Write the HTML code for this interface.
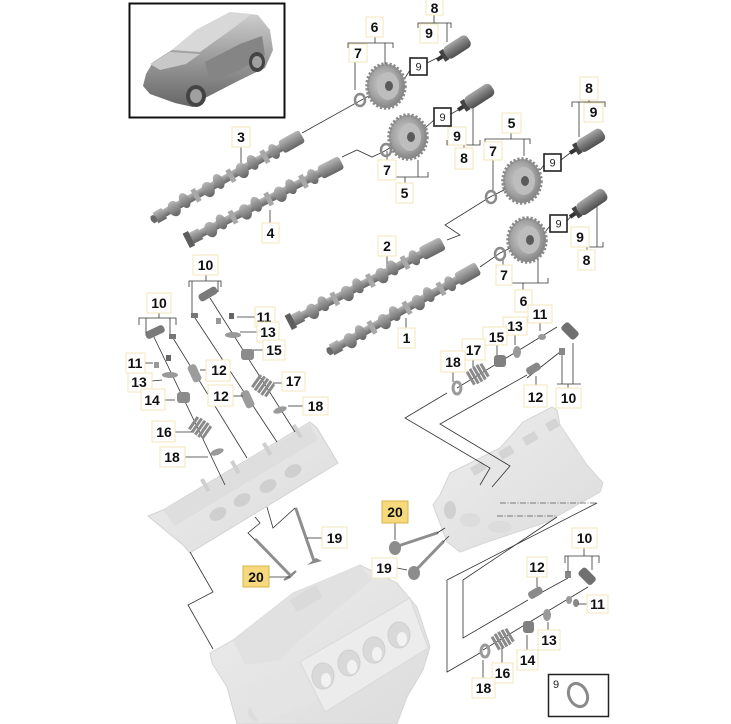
<!DOCTYPE html>
<html><head><meta charset="utf-8">
<style>
html,body{margin:0;padding:0;background:#fff;}
svg{display:block;}
.lb rect{fill:#fff;stroke:#f3e6b8;stroke-width:1;}
.lb text{font-family:"Liberation Sans",sans-serif;font-weight:bold;font-size:14px;fill:#111;text-anchor:middle;}
.hl rect{fill:#f6d97c;stroke:#d8b548;stroke-width:1;}
.bx rect{fill:#fff;stroke:#222;stroke-width:1.6;}
.bx text{font-family:"Liberation Sans",sans-serif;font-size:11px;fill:#222;text-anchor:middle;}
.ln{stroke:#333;stroke-width:0.8;fill:none;}
.dl{stroke:#555;stroke-width:0.8;fill:none;stroke-dasharray:6 1.5 1 1.5;}
</style></head>
<body>
<svg width="731" height="724" viewBox="0 0 731 724" xmlns="http://www.w3.org/2000/svg">
<defs>
<linearGradient id="cam" x1="0" y1="0" x2="0" y2="1">
<stop offset="0" stop-color="#b8b8b8"/><stop offset="0.5" stop-color="#8e8e8e"/><stop offset="1" stop-color="#646464"/>
</linearGradient>
<linearGradient id="sol" x1="0" y1="0" x2="0" y2="1">
<stop offset="0" stop-color="#a8a8a8"/><stop offset="0.5" stop-color="#787878"/><stop offset="1" stop-color="#4e4e4e"/>
</linearGradient>
<radialGradient id="spr" cx="0.45" cy="0.45" r="0.6">
<stop offset="0" stop-color="#d0d0d0"/><stop offset="0.6" stop-color="#a4a4a4"/><stop offset="1" stop-color="#7c7c7c"/>
</radialGradient>
<linearGradient id="car" x1="0" y1="0" x2="0" y2="1">
<stop offset="0" stop-color="#cfcfcf"/><stop offset="0.55" stop-color="#959595"/><stop offset="1" stop-color="#666"/>
</linearGradient>
<linearGradient id="blk" x1="0" y1="0" x2="1" y2="1">
<stop offset="0" stop-color="#ededed"/><stop offset="1" stop-color="#dcdcdc"/>
</linearGradient>
<g id="cs">
<rect x="0" y="-4" width="170" height="8" fill="url(#cam)"/>
<rect x="148" y="-7" width="24" height="14" rx="3" fill="url(#cam)"/>
<rect x="4" y="-6" width="10" height="12" fill="url(#cam)"/>
<ellipse cx="25" cy="1" rx="6" ry="8" fill="url(#cam)"/><ellipse cx="38" cy="-1" rx="5" ry="8" fill="url(#cam)"/>
<rect x="48" y="-7" width="5" height="14" fill="#a8a8a8"/>
<ellipse cx="64" cy="1" rx="6" ry="8" fill="url(#cam)"/><ellipse cx="77" cy="-1" rx="5" ry="8" fill="url(#cam)"/>
<rect x="88" y="-7" width="5" height="14" fill="#a8a8a8"/>
<ellipse cx="103" cy="1" rx="6" ry="8" fill="url(#cam)"/><ellipse cx="116" cy="-1" rx="5" ry="8" fill="url(#cam)"/>
<rect x="127" y="-7" width="5" height="14" fill="#a8a8a8"/>
<ellipse cx="140" cy="0" rx="5" ry="8" fill="url(#cam)"/>
</g>
<g id="spk">
<ellipse cx="0" cy="0" rx="19" ry="22" fill="url(#spr)" stroke="#8a8a8a" stroke-width="3.5" stroke-dasharray="2.2 1.8"/>
<ellipse cx="2" cy="0" rx="11" ry="14" fill="#bdbdbd"/><ellipse cx="3" cy="0" rx="4" ry="5" fill="#5a5a5a"/>
</g>
<g id="spring" fill="#8a8a8a"><rect x="0" y="1" width="3" height="15"/><rect x="4" y="0" width="3" height="17"/><rect x="8" y="0" width="3" height="17"/><rect x="12" y="0" width="3" height="17"/><rect x="16" y="1" width="3" height="15"/></g>
</defs>

<!-- Car inset -->
<rect x="129.5" y="3.5" width="155" height="114" fill="#fff" stroke="#111" stroke-width="2"/>
<polygon points="143,86 146,74 153,62 172,50 196,30 230,12 258,15 270,30 273,50 265,68 240,80 205,98 193,107 175,103 150,94" fill="url(#car)"/>
<polygon points="172,50 196,30 230,12 252,14 228,32 200,52" fill="#d8d8d8"/>
<polygon points="150,64 170,52 200,54 186,64 160,70" fill="#c8c8c8"/>
<polygon points="205,62 240,44 262,36 265,55 240,70 210,82" fill="#858585"/>
<ellipse cx="196" cy="96" rx="10" ry="11" fill="#444"/><ellipse cx="196" cy="96" rx="6" ry="7" fill="#a0a0a0"/>
<ellipse cx="257" cy="62" rx="8" ry="10" fill="#444"/><ellipse cx="257" cy="62" rx="5" ry="6" fill="#a0a0a0"/>

<!-- Top connectors & brackets -->
<g class="ln">
<polyline points="302,133 383,88"/>
<polyline points="405,78 410,70"/><polyline points="427,63 437,58"/>
<polyline points="342,157 357,150 372,157 383,152 408,137"/>
<polyline points="425,128 434,120"/><polyline points="451,114 458,110"/>
<polyline points="447,240 460,235 445,225 490,197 522,181"/>
<polyline points="540,170 544,165"/><polyline points="561,160 570,153"/>
<polyline points="480,267 500,253 527,240"/>
<polyline points="545,232 550,226"/><polyline points="567,221 572,215"/>
<polyline points="434,14 434,23"/><polyline points="418,28 418,23 451,23 451,28"/><polyline points="447,23 447,42"/>
<polyline points="375,37 375,43"/><polyline points="348,48 348,43 393,43 393,48"/><polyline points="385,43 385,64"/><polyline points="355,62 355,90"/>
<polyline points="378,172 378,177 428,177 428,172"/><polyline points="418,160 418,177"/><polyline points="405,177 405,183"/><polyline points="387,160 387,151"/>
<polyline points="447,140 447,145 480,145 480,140"/><polyline points="473,145 473,100"/><polyline points="464,145 464,148"/>
<polyline points="511,133 511,139"/><polyline points="485,144 485,139 530,139 530,144"/><polyline points="524,139 524,156"/><polyline points="493,160 493,190"/>
<polyline points="589,100 589,102"/><polyline points="572,107 572,102 605,102 605,107"/><polyline points="579,102 579,137"/>
<polyline points="571,242 571,247 603,247 603,242"/><polyline points="597,247 597,200"/><polyline points="587,247 587,250"/>
<polyline points="498,278 498,283 548,283 548,278"/><polyline points="538,283 538,258"/><polyline points="503,265 503,259"/><polyline points="523,283 523,290"/>
<polyline points="241,147 241,165"/><polyline points="270,223 270,210"/>
<polyline points="387,256 387,270"/><polyline points="406,328 406,318"/>
</g>

<!-- Camshafts -->
<g transform="translate(152,220) rotate(-29.3)"><use href="#cs"/><ellipse cx="2" cy="0" rx="3" ry="4" fill="#6a6a6a"/></g>
<g transform="translate(188,240) rotate(-26.9)"><use href="#cs"/><rect x="-2" y="-8" width="6" height="16" fill="#5e5e5e"/></g>
<g transform="translate(290,322) rotate(-27.3)"><use href="#cs"/><rect x="-2" y="-8" width="6" height="16" fill="#5e5e5e"/></g>
<g transform="translate(328,352) rotate(-29.2)"><use href="#cs"/><ellipse cx="2" cy="0" rx="3" ry="4" fill="#6a6a6a"/></g>

<!-- Sprockets -->
<use href="#spk" x="386" y="86"/>
<use href="#spk" x="408" y="137"/>
<use href="#spk" x="522" y="181"/>
<use href="#spk" x="527" y="240"/>
<g fill="none" stroke="#8a8a8a" stroke-width="2.5">
<ellipse cx="360" cy="100" rx="5" ry="6"/><ellipse cx="386" cy="150" rx="5" ry="6"/>
<ellipse cx="491" cy="197" rx="5" ry="6"/><ellipse cx="500" cy="254" rx="5" ry="6"/>
</g>

<!-- Solenoids -->
<g transform="translate(437,60) rotate(-32.8)"><rect x="0" y="-2" width="7" height="4" fill="#333"/><rect x="6" y="-6" width="5" height="12" fill="#444"/><rect x="10" y="-7" width="28" height="14" rx="5" fill="url(#sol)"/></g>
<g transform="translate(458,110) rotate(-32.9)"><rect x="0" y="-2" width="7" height="4" fill="#333"/><rect x="6" y="-6" width="5" height="12" fill="#444"/><rect x="10" y="-7" width="31" height="14" rx="5" fill="url(#sol)"/></g>
<g transform="translate(570,153) rotate(-31.2)"><rect x="0" y="-2" width="7" height="4" fill="#333"/><rect x="6" y="-6" width="5" height="12" fill="#444"/><rect x="10" y="-7" width="29" height="14" rx="5" fill="url(#sol)"/></g>
<g transform="translate(570,217) rotate(-34.4)"><rect x="0" y="-2" width="7" height="4" fill="#333"/><rect x="6" y="-6" width="5" height="12" fill="#444"/><rect x="10" y="-7" width="33" height="14" rx="5" fill="url(#sol)"/></g>

<!-- Left cylinder head -->
<polygon points="148,516 163,510 310,422 317,428 338,463 190,553 183,545" fill="url(#blk)" stroke="#d2d2d2"/>
<polygon points="163,510 310,424 318,440 175,526" fill="#dedede"/>
<g fill="#cfcfcf">
<ellipse cx="218" cy="514" rx="9" ry="6" transform="rotate(-30 218 514)"/>
<ellipse cx="242" cy="500" rx="9" ry="6" transform="rotate(-30 242 500)"/>
<ellipse cx="268" cy="486" rx="9" ry="6" transform="rotate(-30 268 486)"/>
<ellipse cx="293" cy="471" rx="9" ry="6" transform="rotate(-30 293 471)"/>
<rect x="200" y="480" width="4" height="14" transform="rotate(-30 200 480)"/>
<rect x="230" y="462" width="4" height="14" transform="rotate(-30 230 462)"/>
<rect x="262" y="444" width="4" height="14" transform="rotate(-30 262 444)"/>
<rect x="292" y="426" width="4" height="14" transform="rotate(-30 292 426)"/>
</g>

<!-- Right cylinder head -->
<polygon points="433,505 440,495 450,473 500,448 523,422 552,407 557,410 560,425 587,465 603,483 600,492 547,522 487,542 460,552 447,542" fill="url(#blk)" stroke="#d5d5d5"/>
<g fill="#d4d4d4">
<rect x="470" y="468" width="14" height="9" transform="rotate(-30 470 468)"/>
<rect x="498" y="452" width="14" height="9" transform="rotate(-30 498 452)"/>
<rect x="522" y="438" width="14" height="9" transform="rotate(-30 522 438)"/>
<rect x="545" y="424" width="12" height="9" transform="rotate(-30 545 424)"/>
<ellipse cx="470" cy="520" rx="10" ry="7" fill="#dcdcdc"/>
<ellipse cx="500" cy="527" rx="12" ry="6" fill="#dcdcdc"/>
<ellipse cx="450" cy="510" rx="6" ry="9" fill="#d0d0d0"/>
</g>
<g class="dl"><polyline points="500,503 597,503"/><polyline points="497,516 557,516"/></g>

<!-- Engine block -->
<polygon points="210,653 233,640 293,593 337,575 360,565 397,583 417,607 430,647 423,670 407,697 397,724 237,724 227,687 212,663" fill="url(#blk)" stroke="#d6d6d6"/>
<polygon points="233,640 293,593 337,575 360,565 372,580 300,640 280,660 245,665" fill="#e1e1e1"/>
<polygon points="300,662 410,598 428,648 325,712" fill="#ececec" stroke="#d9d9d9"/>
<g fill="#d9d9d9" stroke="#cfcfcf">
<ellipse cx="323" cy="676" rx="11" ry="13"/><ellipse cx="349" cy="663" rx="11" ry="13"/>
<ellipse cx="374" cy="650" rx="11" ry="13"/><ellipse cx="399" cy="635" rx="11" ry="13"/>
</g>
<g fill="#f2f2f2">
<ellipse cx="326" cy="680" rx="5" ry="7"/><ellipse cx="352" cy="667" rx="5" ry="7"/><ellipse cx="377" cy="654" rx="5" ry="7"/><ellipse cx="402" cy="639" rx="5" ry="7"/>
</g>
<ellipse cx="260" cy="712" rx="12" ry="10" fill="#dcdcdc"/>
<polygon points="240,690 300,665 318,700 260,724" fill="#e4e4e4"/>
<rect x="290" y="600" width="30" height="14" fill="#dadada" transform="rotate(-30 290 600)"/>

<!-- Valves -->
<g stroke="#8e8e8e" stroke-width="3" stroke-linecap="round">
<line x1="296" y1="509" x2="314" y2="561"/><line x1="256" y1="540" x2="289" y2="574"/>
<line x1="437" y1="533" x2="398" y2="546"/><line x1="443" y1="542" x2="416" y2="570"/>
</g>
<path d="M307,565 L322,561 L316,558 Z" fill="#8a8a8a"/>
<path d="M284,580 L296,571 L290,577 Z" fill="#8a8a8a" stroke="#8a8a8a" stroke-width="2"/>
<ellipse cx="395" cy="548" rx="6" ry="7" fill="#8c8c8c"/>
<ellipse cx="414" cy="573" rx="6" ry="7" fill="#8c8c8c"/>

<!-- Left valve train -->
<g class="ln">
<polyline points="153,335 225,485"/><polyline points="173,338 247,458"/>
<polyline points="195,318 277,442"/><polyline points="210,298 295,432"/>
<polyline points="190,552 213,592 188,605 213,649"/>
<polyline points="267,507 273,528 295,508"/>
<polyline points="255,517 260,523 248,533 255,540"/>
</g>
<rect x="198" y="290" width="20" height="8" rx="3" fill="#7a7a7a" transform="rotate(-30 208 294)"/>
<rect x="191" y="313" width="7" height="5" fill="#777"/>
<rect x="216" y="318" width="5" height="6" fill="#999"/><rect x="229" y="313" width="5" height="6" fill="#666"/>
<ellipse cx="233" cy="335" rx="8" ry="3" fill="#999"/>
<rect x="241" y="349" width="13" height="11" rx="3" fill="#8c8c8c"/>
<use href="#spring" x="0" y="0" transform="translate(254,377) rotate(35 9 8)"/>
<ellipse cx="280" cy="410" rx="7" ry="3" fill="#9a9a9a" transform="rotate(-20 280 410)"/>
<rect x="190" y="364" width="9" height="18" rx="3" fill="#9c9c9c" transform="rotate(-25 195 373)"/>
<rect x="243" y="390" width="9" height="18" rx="3" fill="#9c9c9c" transform="rotate(-25 248 399)"/>
<rect x="145" y="328" width="20" height="8" rx="3" fill="#7a7a7a" transform="rotate(-25 155 332)"/>
<rect x="169" y="334" width="7" height="5" fill="#777"/>
<rect x="154" y="362" width="5" height="6" fill="#999"/><rect x="166" y="355" width="5" height="6" fill="#666"/>
<ellipse cx="170" cy="375" rx="8" ry="3" fill="#999"/>
<rect x="177" y="392" width="13" height="11" rx="3" fill="#8c8c8c"/>
<use href="#spring" x="0" y="0" transform="translate(191,419) rotate(35 9 8)"/>
<ellipse cx="217" cy="452" rx="7" ry="3" fill="#9a9a9a" transform="rotate(-20 217 452)"/>

<!-- Upper right valve train -->
<g class="ln">
<polyline points="557,327 457,388"/><polyline points="560,352 527,378"/>
<polyline points="447,393 405,418 490,468 480,485"/>
<polyline points="527,375 440,424 510,466 492,487"/>
</g>
<rect x="561" y="326" width="18" height="10" rx="3" fill="#707070" transform="rotate(45 570 331)"/>
<rect x="559" y="348" width="6" height="7" fill="#888"/>
<ellipse cx="542" cy="337" rx="4" ry="3" fill="#999"/>
<ellipse cx="517" cy="352" rx="4" ry="6" fill="#9a9a9a"/>
<rect x="494" y="355" width="12" height="12" rx="3" fill="#808080"/>
<use href="#spring" x="0" y="0" transform="translate(468,366) rotate(-30 9 8)"/>
<ellipse cx="457" cy="388" rx="4" ry="6" fill="none" stroke="#9a9a9a" stroke-width="3"/>
<rect x="526" y="365" width="15" height="8" rx="3" fill="#888" transform="rotate(-30 533 369)"/>

<!-- Bottom right valve train -->
<g class="ln">
<polyline points="447,580 597,503"/><polyline points="447,580 447,672 480,653"/>
<polyline points="463,580 557,517"/><polyline points="463,580 463,638 528,600"/>
<polyline points="588,587 483,650"/><polyline points="568,578 537,595"/>
<polyline points="437,533 445,528"/><polyline points="443,542 449,536"/>
</g>
<rect x="577" y="570" width="18" height="10" rx="3" fill="#707070" transform="rotate(45 585 577)"/>
<rect x="565" y="571" width="6" height="7" fill="#888"/>
<rect x="528" y="589" width="15" height="8" rx="3" fill="#8a8a8a" transform="rotate(-30 535 593)"/>
<ellipse cx="569" cy="600" rx="3" ry="4" fill="#999"/><ellipse cx="576" cy="603" rx="3" ry="4" fill="#888"/>
<ellipse cx="547" cy="615" rx="4" ry="6" fill="#9a9a9a"/>
<rect x="523" y="621" width="11" height="12" rx="3" fill="#808080"/>
<use href="#spring" x="0" y="0" transform="translate(493,631) rotate(-30 9 8)"/>
<ellipse cx="485" cy="651" rx="4" ry="6" fill="none" stroke="#9a9a9a" stroke-width="3"/>

<rect x="548.5" y="674.5" width="60" height="42" fill="#fff" stroke="#222" stroke-width="1.5"/>
<text x="556" y="688" style="font-family:'Liberation Sans',sans-serif;font-size:11px;fill:#222;text-anchor:middle;">9</text>
<ellipse cx="578" cy="695" rx="9" ry="12" fill="none" stroke="#8a8a8a" stroke-width="3" transform="rotate(-25 578 695)"/>

<!-- Leaders -->
<g class="ln">
<polyline points="206,275 206,281"/><polyline points="189,287 189,281 221,281 221,287"/><polyline points="192,281 192,313"/><polyline points="218,281 218,292"/>
<polyline points="159,313 159,318"/><polyline points="139,325 139,318 176,318 176,325"/><polyline points="146,318 146,333"/><polyline points="170,318 170,334"/>
<polyline points="237,317 255,317"/><polyline points="240,332 257,332"/><polyline points="253,350 263,350"/>
<polyline points="200,370 206,370"/><polyline points="273,383 282,383"/><polyline points="233,396 243,396"/><polyline points="288,406 303,406"/>
<polyline points="145,363 153,363"/><polyline points="152,381 162,380"/><polyline points="165,400 175,400"/><polyline points="175,432 192,432"/><polyline points="185,457 208,457"/>
<polyline points="540,323 540,331"/><polyline points="515,335 515,345"/><polyline points="497,345 497,355"/><polyline points="473,360 473,367"/><polyline points="453,372 453,382"/>
<polyline points="536,385 536,376"/><polyline points="568,384 568,388"/><polyline points="557,384 581,384"/><polyline points="562,384 562,355"/><polyline points="573,384 573,343"/>
<polyline points="307,538 322,538"/><polyline points="269,577 290,577"/><polyline points="395,523 395,540"/><polyline points="397,568 407,570"/>
<polyline points="584,548 584,556"/><polyline points="565,563 565,556 599,556 599,563"/><polyline points="568,556 568,572"/><polyline points="592,556 592,570"/>
<polyline points="537,577 537,587"/><polyline points="578,604 587,604"/>
<polyline points="548,630 548,622"/><polyline points="527,650 527,635"/><polyline points="502,663 502,648"/><polyline points="483,678 483,660"/>
</g>

<!-- Labels -->
<g class="lb">
<rect x="426" y="-2" width="17" height="17"/><text x="434.5" y="13">8</text>
<rect x="420" y="24" width="18" height="19"/><text x="429" y="38">9</text>
<rect x="366" y="17" width="17" height="20"/><text x="374.5" y="32">6</text>
<rect x="349" y="44" width="18" height="18"/><text x="358" y="58">7</text>
<rect x="448" y="127" width="18" height="18"/><text x="457" y="141">9</text>
<rect x="455" y="148" width="18" height="21"/><text x="464" y="163">8</text>
<rect x="378" y="160" width="18" height="20"/><text x="387" y="175">7</text>
<rect x="396" y="183" width="17" height="20"/><text x="404.5" y="198">5</text>
<rect x="580" y="77" width="18" height="23"/><text x="589" y="93">8</text>
<rect x="584" y="103" width="19" height="19"/><text x="593.5" y="117">9</text>
<rect x="502" y="113" width="19" height="20"/><text x="511.5" y="128">5</text>
<rect x="484" y="142" width="18" height="18"/><text x="493" y="156">7</text>
<rect x="571" y="227" width="18" height="20"/><text x="580" y="242">9</text>
<rect x="578" y="250" width="17" height="20"/><text x="586.5" y="265">8</text>
<rect x="496" y="265" width="16" height="20"/><text x="504" y="280">7</text>
<rect x="515" y="290" width="17" height="22"/><text x="523.5" y="306">6</text>
<rect x="232" y="127" width="18" height="20"/><text x="241" y="142">3</text>
<rect x="262" y="223" width="17" height="20"/><text x="270.5" y="238">4</text>
<rect x="378" y="236" width="18" height="20"/><text x="387" y="251">2</text>
<rect x="398" y="328" width="17" height="20"/><text x="406.5" y="343">1</text>
<rect x="193" y="255" width="25" height="20"/><text x="205.5" y="270">10</text>
<rect x="147" y="293" width="24" height="20"/><text x="159" y="308">10</text>
<rect x="255" y="307" width="20" height="20"/><text x="264" y="322">11</text>
<rect x="257" y="322" width="22" height="20"/><text x="268" y="337">13</text>
<rect x="263" y="340" width="22" height="20"/><text x="274" y="355">15</text>
<rect x="206" y="360" width="24" height="21"/><text x="219" y="375">12</text>
<rect x="282" y="372" width="23" height="19"/><text x="293.5" y="386">17</text>
<rect x="208" y="385" width="25" height="21"/><text x="221" y="401">12</text>
<rect x="303" y="397" width="25" height="18"/><text x="315.5" y="411">18</text>
<rect x="126" y="353" width="19" height="20"/><text x="135" y="368">11</text>
<rect x="128" y="373" width="24" height="19"/><text x="139" y="387">13</text>
<rect x="141" y="389" width="24" height="21"/><text x="152" y="405">14</text>
<rect x="152" y="421" width="23" height="21"/><text x="164" y="437">16</text>
<rect x="160" y="447" width="25" height="20"/><text x="172" y="462">18</text>
<rect x="528" y="305" width="24" height="18"/><text x="540" y="319">11</text>
<rect x="503" y="317" width="24" height="18"/><text x="515" y="331">13</text>
<rect x="483" y="327" width="24" height="18"/><text x="496.5" y="342">15</text>
<rect x="462" y="339" width="23" height="21"/><text x="473.5" y="355">17</text>
<rect x="441" y="351" width="24" height="21"/><text x="453" y="367">18</text>
<rect x="524" y="385" width="23" height="22"/><text x="535.5" y="402">12</text>
<rect x="556" y="388" width="25" height="20"/><text x="568.5" y="403">10</text>
<rect x="322" y="527" width="25" height="21"/><text x="334.5" y="543">19</text>
<rect x="372" y="558" width="25" height="20"/><text x="384" y="573">19</text>
<rect x="572" y="528" width="25" height="20"/><text x="584.5" y="543">10</text>
<rect x="527" y="557" width="20" height="20"/><text x="537" y="572">12</text>
<rect x="587" y="595" width="21" height="18"/><text x="597.5" y="609">11</text>
<rect x="538" y="630" width="22" height="20"/><text x="549" y="645">13</text>
<rect x="517" y="650" width="21" height="20"/><text x="527.5" y="665">14</text>
<rect x="492" y="663" width="21" height="20"/><text x="502.5" y="678">16</text>
<rect x="472" y="678" width="23" height="20"/><text x="483.5" y="693">18</text>
</g>
<g class="lb hl">
<rect x="243" y="566" width="26" height="21"/><text x="256" y="582">20</text>
<rect x="382" y="501" width="26" height="22"/><text x="395" y="517">20</text>
</g>
<g class="bx">
<rect x="410" y="58" width="17" height="17"/><text x="418.5" y="70.5">9</text>
<rect x="434" y="108" width="17" height="18"/><text x="442.5" y="121">9</text>
<rect x="544" y="154" width="17" height="17"/><text x="552.5" y="166.5">9</text>
<rect x="550" y="215" width="17" height="17"/><text x="558.5" y="227.5">9</text>
</g>
</svg>
</body></html>
